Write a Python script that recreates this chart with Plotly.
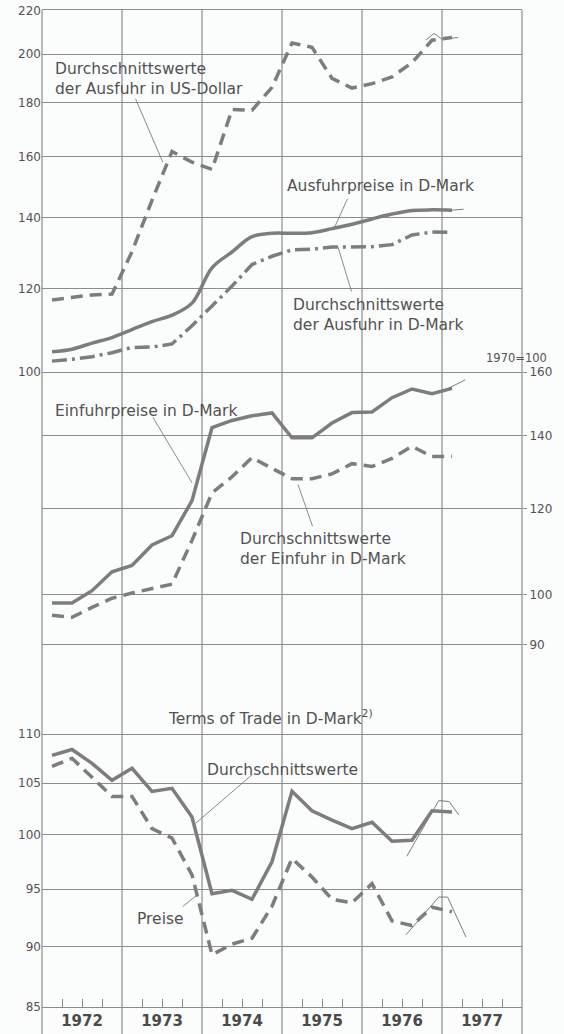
import plotly.graph_objects as go
import math

# ---------------- data (quarterly, 1972 Q1 .. 1977 Q1) ----------------
years = [1972, 1973, 1974, 1975, 1976, 1977]
quarters = ["1972Q1", "1972Q2", "1972Q3", "1972Q4",
            "1973Q1", "1973Q2", "1973Q3", "1973Q4",
            "1974Q1", "1974Q2", "1974Q3", "1974Q4",
            "1975Q1", "1975Q2", "1975Q3", "1975Q4",
            "1976Q1", "1976Q2", "1976Q3", "1976Q4",
            "1977Q1"]

# top panel (1970 = 100, log scale)
usd_ausfuhr = [117.0, 117.7, 118.3, 118.5, 130.0, 145.4, 161.7, 158.0,
               155.5, 177.2, 176.9, 186.0, 204.9, 203.0, 189.7, 185.7,
               187.5, 190.3, 196.3, 206.1, 207.3]
ausfuhrpreise = [104.5, 105.1, 106.5, 107.8, 109.7, 111.6, 113.2, 116.2,
                 125.5, 129.9, 134.3, 135.3, 135.3, 135.5, 136.7, 138.0,
                 139.6, 141.1, 142.2, 142.4, 142.3]
dw_ausfuhr_dm = [102.4, 102.8, 103.4, 104.3, 105.5, 105.6, 106.3, 110.6,
                 115.5, 120.6, 126.4, 128.7, 130.5, 130.7, 131.3, 131.4,
                 131.4, 132.0, 134.8, 135.7, 135.6]

# middle panel
einfuhrpreise = [98.3, 98.3, 100.9, 105.0, 106.4, 111.1, 113.3, 122.0,
                 142.3, 144.5, 145.9, 146.8, 139.3, 139.3, 143.7, 146.9,
                 147.1, 151.6, 154.4, 152.9, 154.6]
dw_einfuhr_dm = [95.8, 95.4, 97.4, 99.3, 100.4, 101.4, 102.3, 112.2,
                 124.0, 128.3, 133.6, 130.6, 127.8, 127.8, 129.1, 131.9,
                 131.1, 133.4, 136.8, 133.9, 133.9]

# bottom panel: terms of trade
tot_dw = [107.8, 108.4, 107.0, 105.3, 106.5, 104.2, 104.5, 101.7,
          94.6, 94.9, 94.1, 97.5, 104.2, 102.3, 101.4, 100.6,
          101.2, 99.4, 99.5, 102.3, 102.2]
tot_preise = [106.7, 107.5, 105.6, 103.7, 103.7, 100.6, 99.7, 96.3,
              89.3, 90.2, 90.7, 93.5, 97.8, 96.1, 94.1, 93.8,
              95.5, 92.2, 91.8, 93.4, 93.0]

# thin hand-drawn revision strokes near the end
rev_usd_x = [1976.80, 1976.90, 1977.00, 1977.20]
rev_usd_y = [206.2, 209.2, 206.6, 207.3]
rev_ausfpr_x = [1977.12, 1977.27]
rev_ausfpr_y = [142.3, 142.6]
rev_einf_x = [1977.04, 1977.29]
rev_einf_y = [154.1, 157.4]
rev_totdw_x = [1976.56, 1976.96, 1977.09, 1977.21]
rev_totdw_y = [98.0, 103.3, 103.2, 101.9]
rev_totpr_x = [1976.55, 1976.96, 1977.07, 1977.15, 1977.30]
rev_totpr_y = [91.0, 94.3, 94.3, 93.1, 90.8]

top_ticks = [100, 120, 140, 160, 180, 200, 220]
mid_ticks = [90, 100, 120, 140, 160]
bot_ticks = [85, 90, 95, 100, 105, 110]

# quarter -> position on a continuous year axis (middle of the quarter)
qx = [int(q[:4]) + (int(q[-1]) - 0.5) / 4 for q in quarters]

# ---------------- styling ----------------
W, H = 564, 1034
ML, MR, MT, MB = 42, 42, 10, 27
PW, PH = W - ML - MR, H - MT - MB
LINE = "#7d7d7d"
GRID = "#8c8c8c"
TXT = "#525252"
BG = "#fbfcfc"
FONT = "DejaVu Sans"
X0, X1 = years[0], years[-1] + 1


def px_x(px):
    return (px - ML) / PW


def px_y(py):
    return (H - MB - py) / PH


fig = go.Figure()


def add_line(x, y, axis, dash="solid", width=3.5, shape="linear"):
    fig.add_trace(go.Scatter(
        x=x, y=y, mode="lines", xaxis="x" + axis, yaxis="y" + axis,
        line=dict(color=LINE, width=width, dash=dash, shape=shape),
        showlegend=False, hoverinfo="skip"))


DASH = "12px,7px"
DASHDOT = "15px,5px,3px,5px"

add_line(qx, usd_ausfuhr, "", DASH)
add_line(qx, ausfuhrpreise, "", "solid", shape="spline")
add_line(qx, dw_ausfuhr_dm, "", DASHDOT)
add_line(rev_usd_x, rev_usd_y, "", "solid", 1)
add_line(rev_ausfpr_x, rev_ausfpr_y, "", "solid", 1)

add_line(qx, einfuhrpreise, "2", "solid")
add_line(qx, dw_einfuhr_dm, "2", DASH)
add_line(rev_einf_x, rev_einf_y, "2", "solid", 1)

add_line(qx, tot_dw, "3", "solid")
add_line(qx, tot_preise, "3", DASH)
add_line(rev_totdw_x, rev_totdw_y, "3", "solid", 1)
add_line(rev_totpr_x, rev_totpr_y, "3", "solid", 1)

# panel boundaries in pixels
top_dom = [px_y(372), 1.0]
mid_dom = [px_y(690), px_y(372)]
bot_dom = [0.0, px_y(690)]

mid_top = math.log10(160) + 0.0001
mid_bot = math.log10(160) - (690 - 372) / 1092
bot_lo = math.log10(85)
bot_hi = bot_lo + (1007 - 690) / 2438

tickfont = dict(family=FONT, size=12, color=TXT)

xcommon = dict(range=[X0, X1], showgrid=False, zeroline=False, automargin=False)
year_mid = [y + 0.5 for y in years]
quarter_ticks = [y + q / 4 for y in years for q in (1, 2, 3)]

ycommon = dict(type="log", showgrid=True, gridcolor=GRID, gridwidth=1.2,
               zeroline=False, tickfont=tickfont, automargin=False)

fig.update_layout(
    width=W, height=H,
    margin=dict(l=ML, r=MR, t=MT, b=MB, autoexpand=False),
    paper_bgcolor=BG, plot_bgcolor=BG,
    font=dict(family=FONT, color=TXT),
    xaxis=dict(**xcommon, anchor="y", showticklabels=False,
               showline=True, mirror=True, linecolor=GRID, linewidth=1.2, ticks=""),
    xaxis2=dict(**xcommon, anchor="y2", matches="x", showticklabels=False, ticks=""),
    xaxis3=dict(**xcommon, anchor="y3", matches="x", showline=True, linecolor=GRID,
                linewidth=1.2, tickvals=year_mid, ticktext=[str(y) for y in years],
                ticks="inside", ticklen=8, tickcolor=GRID, tickwidth=1.2,
                tickangle=0,
                minor=dict(tickvals=quarter_ticks, ticks="inside", ticklen=8,
                           tickcolor=GRID, tickwidth=1.2, showgrid=False),
                tickfont=dict(family=FONT, size=15, color="#4a4a4a", weight="bold")),
    yaxis=dict(**ycommon, domain=top_dom,
               range=[math.log10(100), math.log10(220) + 0.0003],
               tickvals=top_ticks, ticktext=[str(v) for v in top_ticks], ticks=""),
    yaxis2=dict(**ycommon, domain=mid_dom, side="right", anchor="x2",
                range=[mid_bot, mid_top],
                tickvals=mid_ticks, ticktext=[str(v) for v in mid_ticks],
                ticks="outside", ticklen=4, tickcolor=GRID),
    yaxis3=dict(**ycommon, domain=bot_dom, anchor="x3",
                range=[bot_lo, bot_hi],
                tickvals=bot_ticks, ticktext=[str(v) for v in bot_ticks], ticks=""),
)

# vertical year lines across all panels, extending below the bottom axis
shapes = []
for yr in years + [years[-1] + 1]:
    xp = (yr - X0) / (X1 - X0)
    shapes.append(dict(type="line", xref="paper", yref="paper",
                       x0=xp, x1=xp, y0=px_y(H), y1=1.0,
                       line=dict(color=GRID, width=1.2), layer="below"))
fig.update_layout(shapes=shapes)

# text labels
AF = dict(family=FONT, size=15.5, color=TXT)
labels = [
    ("Durchschnittswerte<br>der Ausfuhr in US-Dollar", 53, 79),
    ("Ausfuhrpreise in D-Mark", 285, 186),
    ("Durchschnittswerte<br>der Ausfuhr in D-Mark", 291, 315),
    ("Einfuhrpreise in D-Mark", 53, 411),
    ("Durchschnittswerte<br>der Einfuhr in D-Mark", 238, 549),
    ("Terms of Trade in D-Mark<sup>2)</sup>", 166, 717),
    ("Durchschnittswerte", 205, 770),
    ("Preise", 135, 919),
]
annotations = []
for text, lx, ly in labels:
    annotations.append(dict(text=text, xref="paper", yref="paper",
                            x=px_x(lx), y=px_y(ly), xanchor="left", yanchor="middle",
                            align="left", showarrow=False, font=AF))
annotations.append(dict(text="1970=100", xref="paper", yref="paper",
                        x=px_x(549), y=px_y(358), xanchor="right", yanchor="middle",
                        showarrow=False, font=dict(family=FONT, size=11.5, color=TXT)))

# leader lines: head on the curve (data coords), tail offset in pixels
leaders = [
    ("x", "y", 1973.51, 158.0, -28, -65),
    ("x", "y", 1975.64, 136.2, 15, -33),
    ("x", "y", 1975.70, 131.3, 14, 46),
    ("x2", "y2", 1973.875, 126.7, -40, -67),
    ("x2", "y2", 1975.20, 126.2, 15, 43),
    ("x3", "y3", 1973.92, 101.1, 58, -50),
    ("x3", "y3", 1973.94, 94.5, -16, 13),
]
for xr, yr_, xv, yv, ax, ay in leaders:
    annotations.append(dict(text="", xref=xr, yref=yr_, x=xv, y=math.log10(yv),
                            showarrow=True, arrowhead=0, arrowwidth=0.9,
                            arrowcolor=LINE, ax=ax, ay=ay, standoff=0))
fig.update_layout(annotations=annotations)

fig.write_html("out.html",
               config={"displayModeBar": False},
               post_script="document.body.style.margin='0';"
                           "document.body.style.overflow='hidden';")
